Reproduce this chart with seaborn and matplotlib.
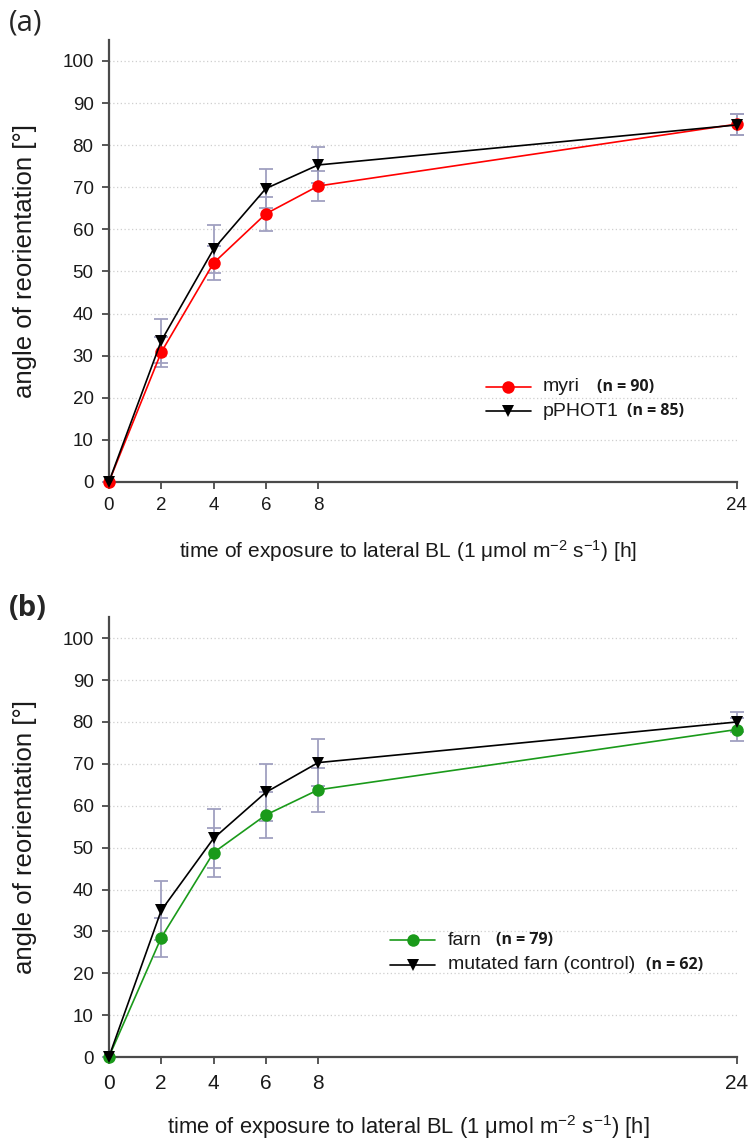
import matplotlib
matplotlib.use("Agg")
import matplotlib.pyplot as plt
import seaborn as sns
import pandas as pd

sns.set_theme(style="white")
plt.rcParams['font.family'] = ['Liberation Sans', 'DejaVu Sans']
plt.rcParams['mathtext.fontset'] = 'custom'
plt.rcParams['mathtext.rm'] = 'Liberation Sans'
plt.rcParams['mathtext.it'] = 'Liberation Sans'
plt.rcParams['mathtext.default'] = 'regular'

time_h = [0, 2, 4, 6, 8, 24]
x_ticks = [0, 2, 4, 6, 8, 24]
y_ticks = [0, 10, 20, 30, 40, 50, 60, 70, 80, 90, 100]

# Panel (a)
myri_mean = [0, 30.8, 52.0, 63.7, 70.3, 85.0]
myri_err = [0, 3.6, 4.0, 4.0, 3.5, 2.5]
pphot_mean = [0, 33.5, 55.3, 69.7, 75.3, 84.8]
pphot_err = [0, 5.2, 5.7, 4.6, 4.2, 2.5]

# Panel (b)
farn_mean = [0, 28.5, 48.8, 57.8, 63.8, 78.2]
farn_err = [0, 4.7, 5.8, 5.6, 5.3, 2.7]
mut_mean = [0, 35.0, 52.2, 63.2, 70.3, 80.0]
mut_err = [0, 7.0, 7.0, 6.8, 5.7, 2.5]

labels_a = ["myri", "pPHOT1"]
n_a = ["(n = 90)", "(n = 85)"]
labels_b = ["farn", "mutated farn (control)"]
n_b = ["(n = 79)", "(n = 62)"]

xlabel = "time of exposure to lateral BL (1 μmol m$^{-2}$ s$^{-1}$) [h]"
ylabel = "angle of reorientation [°]"

err_color = "#a0a0c0"
spine_color = "#4a4a4a"

fig = plt.figure(figsize=(7.51, 11.41), dpi=100)
fig.patch.set_facecolor("white")
ax_a = fig.add_axes([0.145, 0.5776, 0.836, 0.3874])
ax_b = fig.add_axes([0.145, 0.0736, 0.836, 0.3854])


def draw(ax, means, errs, labels, colors, markers, ns, leg_y, leg_x, n_x,
         xl_size, xtick_size, xtick_pad):
    frames = []
    for m, lab in zip(means, labels):
        frames.append(pd.DataFrame({"time": time_h, "angle": m, "series": lab}))
    df = pd.concat(frames, ignore_index=True)
    for m, e in zip(means, errs):
        ax.errorbar(time_h, m, yerr=e, fmt="none", ecolor=err_color, elinewidth=1.3,
                    capsize=5, capthick=1.3, zorder=2, clip_on=False)
    sns.lineplot(data=df, x="time", y="angle", hue="series", style="series",
                 palette=dict(zip(labels, colors)), markers=dict(zip(labels, markers)),
                 dashes=False, markersize=9, markeredgewidth=0, linewidth=1.2,
                 ax=ax, legend=False, zorder=3, clip_on=False)
    ax.set_xlim(0, 24)
    ax.set_ylim(0, 105)
    ax.set_xticks(x_ticks)
    ax.set_yticks(y_ticks)
    for y in y_ticks[1:]:
        ax.axhline(y, color="#cfcfcf", linestyle=(0, (1, 2)), linewidth=0.9, zorder=0)
    for s in ["top", "right"]:
        ax.spines[s].set_visible(False)
    for s in ["left", "bottom"]:
        ax.spines[s].set_color(spine_color)
        ax.spines[s].set_linewidth(1.6)
    ax.tick_params(axis="both", direction="out", length=5, width=1.3, color=spine_color,
                   labelsize=13.5, labelcolor="#1a1a1a", bottom=True, left=True, pad=6)
    ax.tick_params(axis="x", labelsize=xtick_size, pad=xtick_pad)
    ax.set_xlabel(xlabel, fontsize=xl_size, color="#1a1a1a")
    ax.set_ylabel(ylabel, fontsize=18.5, labelpad=18, color="#1a1a1a")
    # legend
    for i, (lab, c, mk, n) in enumerate(zip(labels, colors, markers, ns)):
        y = leg_y[i]
        ax.plot([leg_x, leg_x + 1.72], [y, y], color=c, linewidth=1.2, zorder=4)
        ax.plot([leg_x + 0.86], [y], marker=mk, color=c, markersize=9, markeredgewidth=0, zorder=4)
        ax.text(leg_x + 2.2, y, lab, fontsize=14, va="center", ha="left", color="#1a1a1a")
        ax.text(n_x[i], y, n, fontsize=11.5, va="center", ha="left", fontweight="bold",
                color="#1a1a1a", family=['Open Sans', 'DejaVu Sans'])


draw(ax_a, [myri_mean, pphot_mean], [myri_err, pphot_err], labels_a,
     ["#ff0000", "#000000"], ["o", "v"], n_a, [22.6, 16.8], 14.4, [18.65, 19.8],
     15, 13.5, 6)
draw(ax_b, [farn_mean, mut_mean], [farn_err, mut_err], labels_b,
     ["#1a9a1a", "#000000"], ["o", "v"], n_b, [27.9, 22.0], 10.75, [14.8, 20.55],
     15.8, 15, 7)

ax_a.xaxis.set_label_coords(0.477, -0.128)
ax_b.xaxis.set_label_coords(0.477, -0.127)

fig.text(0.012, 0.980, "(a)", fontsize=21, family=['Open Sans', 'DejaVu Sans'], va="center", ha="left")
fig.text(0.012, 0.467, "(b)", fontsize=21, fontweight="bold", family=['Open Sans', 'DejaVu Sans'], va="center", ha="left")

fig.savefig("out.png", dpi=100, facecolor="white")
